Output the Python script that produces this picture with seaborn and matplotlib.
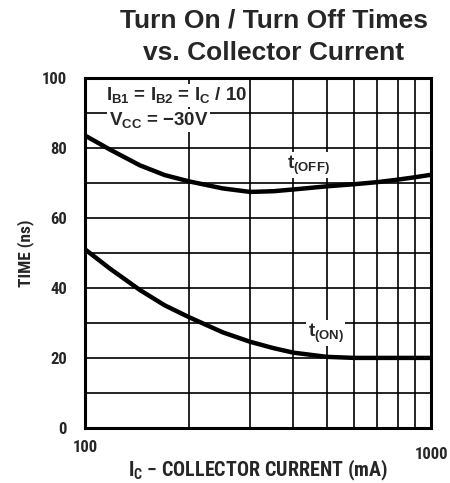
import numpy as np
import pandas as pd
import matplotlib
matplotlib.use("Agg")
import matplotlib.pyplot as plt
from matplotlib.ticker import NullFormatter
import seaborn as sns

# values
current_ma = [100, 118, 144, 170, 200, 250, 300, 350, 400, 500, 600, 700, 800, 900, 1000]
t_off_ns = [83.5, 79.5, 75.0, 72.2, 70.4, 68.4, 67.4, 67.6, 68.1, 69.0, 69.6, 70.2, 70.9, 71.6, 72.3]
t_on_ns = [51.0, 45.5, 39.4, 35.0, 31.6, 27.3, 24.6, 22.8, 21.5, 20.3, 20.0, 20.0, 20.0, 20.0, 20.0]

y_ticks = [0, 20, 40, 60, 80, 100]
x_tick_labels = ["100", "1000"]

df = pd.DataFrame({"ic": current_ma, "toff": t_off_ns, "ton": t_on_ns})

sns.set_style("white")
plt.rcParams["font.family"] = ["Liberation Sans", "DejaVu Sans"]
plt.rcParams["mathtext.default"] = "regular"

fig = plt.figure(figsize=(4.5, 4.83), dpi=100)
ax = fig.add_axes([0.189, 0.114, 0.769, 0.725])

sns.lineplot(data=df, x="ic", y="toff", color="black", linewidth=3.2, ax=ax)
sns.lineplot(data=df, x="ic", y="ton", color="black", linewidth=3.2, ax=ax)

ax.set_xscale("log")
ax.set_xlim(100, 1000)
ax.set_ylim(0, 100)

# grid: every 10 ns, every 100 mA
ax.set_xticks(list(range(200, 1000, 100)), minor=True)
ax.xaxis.set_minor_formatter(NullFormatter())
ax.set_yticks(list(range(10, 100, 10)), minor=True)
ax.grid(True, which="both", color="black", linewidth=1.2)
ax.set_axisbelow(True)
ax.tick_params(which="both", length=0)

narrow = {"family": "Roboto Condensed", "weight": "bold", "size": 12}
ax.set_yticks(y_ticks)
ax.set_yticklabels([str(v) for v in y_ticks], fontdict=narrow)
ax.set_xticks([100, 1000])
ax.set_xticklabels(x_tick_labels, fontdict=narrow)
ax.tick_params(axis="y", pad=13)
ax.tick_params(axis="x", pad=9)
ax.get_xticklabels()[1].set_y(-0.02)

for s in ax.spines.values():
    s.set_visible(True)
    s.set_color("black")
    s.set_linewidth(2.2)

ax.set_xlabel(r"I$_C$ $-$ COLLECTOR CURRENT (mA)", fontdict={**narrow, "size": 14.5}, labelpad=-3)
ax.set_ylabel("TIME (ns)", fontdict={**narrow, "size": 12.5}, labelpad=6)

box = dict(facecolor="white", edgecolor="none", pad=1)
ax.text(115, 95, r"I$_{B1}$ = I$_{B2}$ = I$_C$ / 10", fontsize=13.5, fontweight="bold",
        va="center", ha="left", bbox=box)
ax.text(117, 87.8, r"V$_{CC}$ = $-$30V", fontsize=13.5, fontweight="bold",
        va="center", ha="left", bbox=box)
ax.text(443, 75, r"t$_{(OFF)}$", fontsize=13.5, fontweight="bold",
        va="center", ha="center", bbox=box)
ax.text(496, 27, r"t$_{(ON)}$", fontsize=13.5, fontweight="bold",
        va="center", ha="center", bbox=box)

fig.text(0.609, 0.957, "Turn On / Turn Off Times", ha="center", va="center",
         fontsize=19, fontweight="bold")
fig.text(0.609, 0.891, "vs. Collector Current", ha="center", va="center",
         fontsize=19, fontweight="bold")

fig.savefig("out.png", dpi=100)
